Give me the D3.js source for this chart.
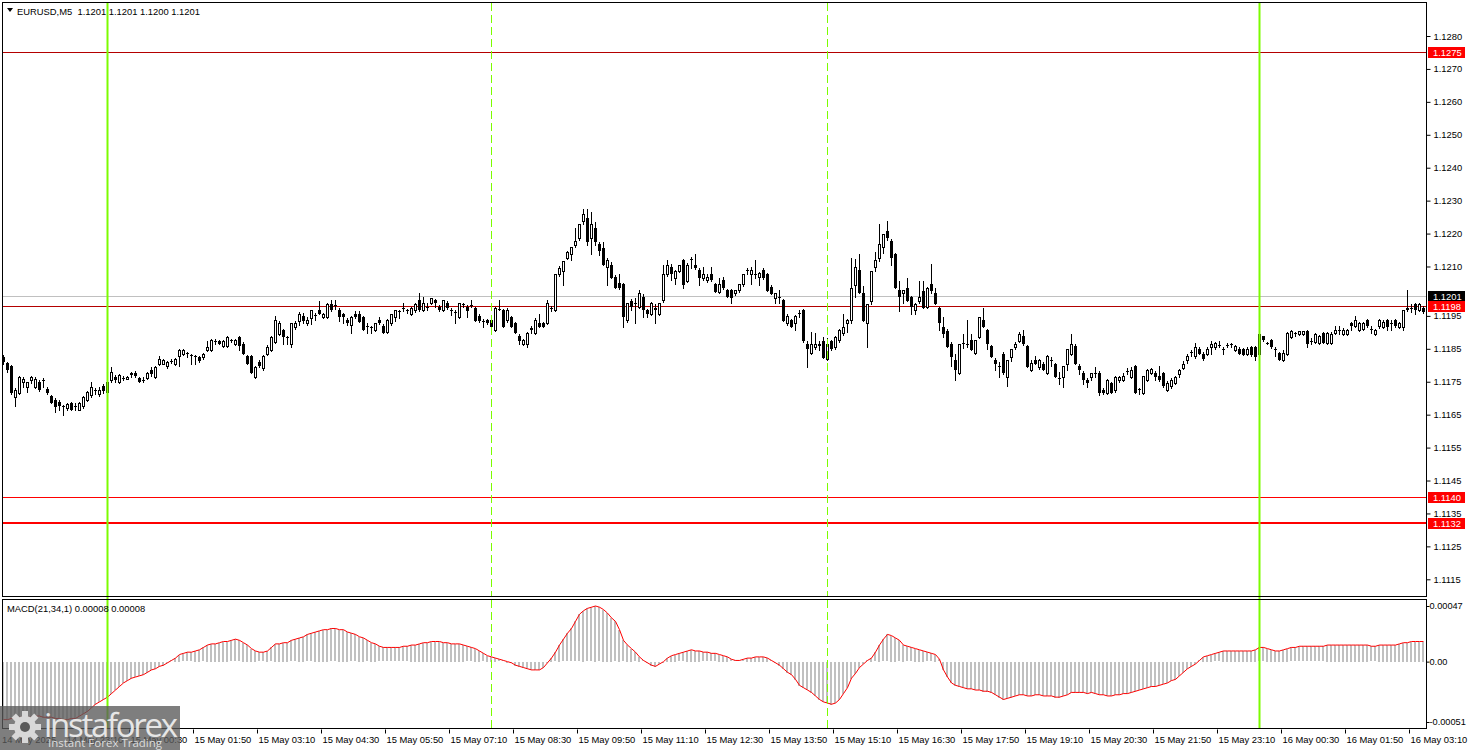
<!DOCTYPE html>
<html><head><meta charset="utf-8">
<script src="https://cdn.jsdelivr.net/npm/d3@7"></script>
<style>html,body{margin:0;padding:0;background:#fff;overflow:hidden}</style>
</head><body><svg id="c" width="1468" height="750"></svg>
<script>
// ---------------- DATA ----------------
const symbolTitle = "EURUSD,M5";
const lastQuote = ["1.1201", "1.1201", "1.1200", "1.1201"];
const firstBarTime = "2025-05-14 21:50";
const barMinutes = 5;

const opens = [
1.11825,1.11807,1.11797,1.11704,1.11716,1.1175,1.11734,1.11754,1.11734,1.11749,
1.11754,1.11729,1.11706,1.11695,1.11688,1.11676,1.1167,1.11685,1.11675,1.11665,
1.11675,1.11695,1.11709,1.11726,1.11712,1.11736,1.11719,1.11754,1.11764,1.1175,
1.11762,1.11759,1.11776,1.11778,1.11762,1.11755,1.11762,1.11786,1.11764,1.11805,
1.11805,1.11797,1.11813,1.11805,1.11827,1.11833,1.11837,1.11832,1.11826,1.11825,
1.11825,1.11845,1.11847,1.11872,1.11873,1.11858,1.11858,1.11876,1.11866,1.11886,
1.11866,1.11827,1.11827,1.11764,1.1181,1.11793,1.11835,1.11847,1.11871,1.11896,
1.11906,1.11885,1.11866,1.11917,1.11934,1.1195,1.11927,1.11944,1.11952,1.11967,
1.11947,1.11947,1.11987,1.1198,1.11967,1.11957,1.11937,1.11922,1.11957,1.11957,
1.11947,1.1192,1.11917,1.11907,1.11937,1.1192,1.11902,1.11927,1.11947,1.11962,
1.1197,1.11967,1.11957,1.11967,1.11998,1.11967,1.11977,1.11988,1.11998,1.11978,
1.11968,1.11988,1.11967,1.11962,1.11947,1.11985,1.11978,1.11982,1.11975,1.1195,
1.11935,1.11937,1.11937,1.11907,1.1197,1.11967,1.11937,1.11947,1.11927,1.1189,
1.11866,1.11866,1.11912,1.11897,1.11927,1.11927,1.11927,1.11975,1.11967,1.12076,
1.12086,1.12127,1.12137,1.12165,1.12187,1.12238,1.12246,1.12187,1.12216,1.12167,
1.12157,1.12099,1.12106,1.12069,1.12049,1.12046,1.11937,1.11995,1.11988,1.11978,
1.12008,1.11967,1.11957,1.11975,1.11957,1.11998,1.12076,1.12099,1.12066,1.12086,
1.12119,1.12056,1.12122,1.12106,1.12089,1.12066,1.12059,1.12076,1.12046,1.12023,
1.12059,1.12028,1.12028,1.12018,1.12028,1.12046,1.12086,1.12076,1.12076,1.12069,
1.12089,1.12076,1.12038,1.12003,1.12008,1.11998,1.11927,1.11937,1.11927,1.11957,
1.11967,1.11866,1.11836,1.11856,1.11866,1.11873,1.11819,1.11873,1.11856,1.11876,
1.11897,1.11927,1.11937,1.12043,1.12089,1.1202,1.11927,1.11995,1.12097,1.12127,
1.12158,1.12208,1.12178,1.12137,1.12028,1.12018,1.12036,1.12006,1.11967,1.11995,
1.12026,1.11977,1.12046,1.12018,1.11975,1.11917,1.11904,1.11866,1.11817,1.11777,
1.11868,1.11866,1.11876,1.11836,1.11886,1.11937,1.11906,1.11858,1.11817,1.11797,
1.11833,1.11764,1.11825,1.11856,1.11874,1.11888,1.11858,1.11787,1.11817,1.11795,
1.11805,1.11777,1.11815,1.11803,1.1176,1.11765,1.11805,1.11835,1.11858,1.11797,
1.11777,1.11754,1.11765,1.11776,1.11777,1.11726,1.11716,1.11746,1.11724,1.11754,
1.11756,1.11782,1.11765,1.11797,1.11729,1.11716,1.11756,1.11776,1.11776,1.11766,
1.11776,1.11726,1.11736,1.11746,1.11774,1.11793,1.11815,1.1184,1.11827,1.1185,
1.11835,1.11833,1.11857,1.11855,1.11861,1.11848,1.11861,1.11864,1.11847,1.1185,
1.1185,1.11833,1.11857,1.11855,1.11835,1.11888,1.11868,1.11876,1.11848,1.11837,
1.11817,1.11835,1.11886,1.11898,1.11896,1.11896,1.11904,1.11873,1.11871,1.11868,
1.11898,1.11868,1.11868,1.11898,1.11905,1.11896,1.11896,1.11928,1.11918,1.11906,
1.11911,1.11938,1.11908,1.11896,1.11918,1.11916,1.11936,1.11926,1.11936,1.11916,
1.11916,1.11975,1.11975,1.11987,1.11967,1.11975];

const highs = [
1.1183,1.1181,1.118,1.1173,1.11768,1.11764,1.1175,1.11768,1.11764,1.11756,
1.1176,1.11735,1.1171,1.117,1.11695,1.1168,1.11686,1.11688,1.11685,1.11688,
1.11706,1.11721,1.11749,1.1173,1.11735,1.11742,1.11754,1.11795,1.1177,1.11775,
1.11766,1.11766,1.1178,1.11782,1.11765,1.11764,1.1178,1.11795,1.11797,1.11827,
1.1182,1.11813,1.11818,1.11823,1.1185,1.11848,1.1184,1.11835,1.1183,1.11828,
1.11838,1.11874,1.1188,1.1188,1.11878,1.11876,1.11888,1.1188,1.1188,1.1189,
1.1187,1.1183,1.1183,1.11798,1.11815,1.1183,1.11863,1.11888,1.11949,1.11935,
1.1191,1.1189,1.11927,1.11933,1.11961,1.1196,1.11947,1.11968,1.1196,1.11995,
1.1196,1.11988,1.11998,1.11998,1.11975,1.1196,1.11943,1.1195,1.11965,1.11964,
1.1195,1.11927,1.1192,1.11927,1.11948,1.11925,1.1194,1.11957,1.11967,1.11967,
1.11988,1.1197,1.11978,1.11988,1.12018,1.12008,1.11988,1.12005,1.12002,1.11982,
1.11998,1.11995,1.11973,1.11968,1.11988,1.11989,1.11982,1.11998,1.11978,1.11955,
1.1194,1.1194,1.11942,1.11977,1.11998,1.1197,1.11973,1.1195,1.1193,1.11895,
1.11879,1.119,1.1192,1.11945,1.11957,1.1193,1.11998,1.1198,1.12078,1.121,
1.12118,1.12148,1.1216,1.12216,1.12228,1.12276,1.12276,1.12266,1.12236,1.12175,
1.12175,1.12125,1.12115,1.12075,1.12076,1.12049,1.11988,1.12,1.12003,1.12028,
1.12015,1.1197,1.11993,1.11985,1.11988,1.12105,1.12119,1.12108,1.1209,1.12106,
1.12122,1.1211,1.1213,1.12137,1.12095,1.12099,1.12076,1.12099,1.1205,1.12066,
1.12069,1.12033,1.12033,1.1203,1.12048,1.12076,1.12094,1.12099,1.12119,1.12084,
1.12094,1.1208,1.12045,1.12018,1.12028,1.12,1.11955,1.1194,1.11953,1.11967,
1.1197,1.11875,1.11902,1.11897,1.11875,1.11886,1.11883,1.11878,1.11888,1.1191,
1.11957,1.1194,1.12127,1.12124,1.12139,1.1204,1.11985,1.12087,1.12145,1.12228,
1.122,1.12239,1.12185,1.1214,1.12056,1.1203,1.12066,1.1201,1.1199,1.12056,
1.12056,1.12038,1.12109,1.12036,1.11978,1.11947,1.1191,1.1187,1.11835,1.11866,
1.11896,1.11937,1.11896,1.11878,1.11947,1.11975,1.1191,1.11862,1.11822,1.1181,
1.1184,1.11817,1.1185,1.1187,1.119,1.11906,1.11862,1.11817,1.11827,1.1182,
1.1181,1.1183,1.11825,1.11807,1.1178,1.11797,1.11848,1.11896,1.11865,1.11803,
1.11782,1.1176,1.11778,1.11795,1.11782,1.1173,1.11758,1.1175,1.11766,1.11768,
1.11777,1.11793,1.11795,1.118,1.11732,1.11768,1.1179,1.11793,1.11782,1.11797,
1.1178,1.11752,1.11762,1.11768,1.11789,1.11813,1.11833,1.11847,1.11868,1.11855,
1.1184,1.11854,1.11874,1.11871,1.11874,1.11856,1.11868,1.11868,1.11863,1.11855,
1.11852,1.11855,1.1186,1.11858,1.11898,1.1189,1.1187,1.1188,1.11856,1.1184,
1.11847,1.119,1.11906,1.119,1.11904,1.11904,1.11907,1.11884,1.11898,1.11892,
1.11901,1.11902,1.119,1.11918,1.11918,1.11913,1.1191,1.11931,1.11949,1.11932,
1.11931,1.1194,1.11918,1.1191,1.1194,1.11936,1.1194,1.11936,1.1194,1.11931,
1.11968,1.12028,1.11987,1.1199,1.11989,1.11979];

const lows = [
1.11805,1.1178,1.11713,1.11675,1.11713,1.11734,1.11719,1.11745,1.1173,1.11722,
1.11734,1.11713,1.11685,1.11658,1.11665,1.11648,1.11663,1.11663,1.11663,1.11663,
1.1167,1.1169,1.11705,1.11714,1.11706,1.11715,1.11705,1.1175,1.1175,1.11745,
1.11756,1.11757,1.11765,1.11763,1.11748,1.11749,1.11758,1.11768,1.1176,1.118,
1.11803,1.11793,1.11807,1.11802,1.11797,1.1183,1.11825,1.11805,1.11805,1.1181,
1.1182,1.11842,1.11844,1.11865,1.11865,1.11855,1.11855,1.1187,1.11863,1.11845,
1.11833,1.11803,1.11776,1.1176,1.11795,1.11785,1.1183,1.11843,1.11868,1.11893,
1.11866,1.11865,1.11856,1.1191,1.11922,1.11928,1.11923,1.11925,1.11937,1.11955,
1.11943,1.11944,1.11965,1.1197,1.11934,1.11927,1.11923,1.11897,1.11943,1.1193,
1.11906,1.11897,1.11897,1.11903,1.11925,1.11897,1.11898,1.11923,1.11935,1.11945,
1.11965,1.11958,1.11953,1.11963,1.11965,1.11964,1.11967,1.11986,1.11977,1.11966,
1.11965,1.11972,1.11954,1.11927,1.11945,1.11976,1.11947,1.11976,1.11934,1.1193,
1.11917,1.11925,1.11897,1.11903,1.11967,1.11917,1.1193,1.11917,1.11897,1.11866,
1.11863,1.11856,1.11897,1.11895,1.11915,1.11915,1.11925,1.11965,1.11965,1.1207,
1.12045,1.12123,1.1212,1.1216,1.1218,1.1223,1.12165,1.12137,1.12165,1.12135,
1.12105,1.12043,1.12064,1.12035,1.12033,1.11917,1.11932,1.11967,1.11927,1.11973,
1.11947,1.11947,1.11952,1.11927,1.11953,1.11993,1.1207,1.12059,1.12048,1.12082,
1.12035,1.12052,1.12096,1.12093,1.12045,1.1206,1.12052,1.12055,1.12023,1.1202,
1.12032,1.12008,1.11988,1.12012,1.12023,1.12042,1.12076,1.12046,1.12066,1.12045,
1.12063,1.12025,1.12015,1.11988,1.11988,1.11934,1.11923,1.11917,1.11907,1.11947,
1.11871,1.11795,1.11833,1.1185,1.11845,1.11821,1.11816,1.11845,1.1185,1.11872,
1.11892,1.11902,1.11928,1.12006,1.12018,1.11935,1.11856,1.11985,1.12085,1.12117,
1.1214,1.1218,1.12104,1.12036,1.11965,1.11989,1.11995,1.11957,1.11957,1.1199,
1.11975,1.11973,1.1202,1.11987,1.11906,1.11886,1.11856,1.11797,1.11756,1.11772,
1.11851,1.11854,1.11845,1.11833,1.11882,1.11916,1.11848,1.11825,1.11787,1.11765,
1.11775,1.11736,1.11814,1.1185,1.1187,1.11862,1.11795,1.11782,1.11803,1.1179,
1.11787,1.11773,1.11797,1.11765,1.11744,1.11734,1.11787,1.11831,1.11805,1.11775,
1.11744,1.11734,1.11754,1.11765,1.11709,1.11712,1.11712,1.11715,1.1172,1.1175,
1.11752,1.11772,1.11762,1.11716,1.11714,1.11713,1.11753,1.11772,1.11754,1.11752,
1.11735,1.11722,1.11732,1.11742,1.11765,1.11788,1.11808,1.11827,1.11823,1.11833,
1.11815,1.1183,1.11835,1.1185,1.11856,1.11835,1.11856,1.11856,1.11843,1.11835,
1.1183,1.1183,1.11827,1.11817,1.11828,1.11875,1.11865,1.11851,1.11827,1.11816,
1.11814,1.11832,1.11882,1.11888,1.11892,1.11892,1.11857,1.11865,1.11868,1.11865,
1.11868,1.11865,1.11865,1.11895,1.11894,1.11892,1.11892,1.11906,1.11915,1.11903,
1.11908,1.11915,1.11898,1.11892,1.11914,1.11913,1.11906,1.11908,1.11916,1.11913,
1.11906,1.11964,1.11962,1.11957,1.11965,1.1196];

const closes = [
1.1181,1.11785,1.11716,1.11726,1.11764,1.11759,1.11749,1.11764,1.11759,1.11726,
1.11752,1.11716,1.11685,1.11673,1.11675,1.11675,1.11683,1.11665,1.11676,1.11685,
1.11704,1.11719,1.11734,1.11724,1.11726,1.11722,1.11749,1.1178,1.11754,1.1177,
1.1176,1.11764,1.1177,1.11766,1.11749,1.11756,1.11776,1.11772,1.11796,1.1182,
1.11817,1.1181,1.11814,1.1182,1.11847,1.11845,1.11836,1.1183,1.11828,1.11813,
1.11835,1.11857,1.11876,1.11873,1.11866,1.11873,1.11886,1.11875,1.11876,1.11858,
1.11835,1.11805,1.11776,1.11796,1.11797,1.11827,1.11857,1.11886,1.11937,1.11927,
1.11886,1.11882,1.11927,1.11927,1.11957,1.11934,1.11937,1.11967,1.11954,1.11957,
1.11957,1.11987,1.11967,1.11983,1.11947,1.11947,1.11927,1.11947,1.11947,1.11932,
1.11907,1.11917,1.11915,1.11927,1.11927,1.11897,1.11937,1.11957,1.11967,1.11965,
1.11973,1.11968,1.11973,1.11987,1.11967,1.11988,1.11978,1.12005,1.11988,1.11968,
1.11998,1.11975,1.11965,1.1196,1.11988,1.11983,1.11965,1.11983,1.11934,1.11934,
1.11935,1.11927,1.11917,1.11973,1.11972,1.11917,1.11967,1.11917,1.11897,1.11873,
1.11876,1.11897,1.11907,1.11937,1.11917,1.11917,1.11988,1.1197,1.12076,1.12096,
1.12116,1.12145,1.1216,1.12177,1.12228,1.12258,1.12175,1.12228,1.12175,1.12147,
1.12106,1.1212,1.12066,1.12035,1.12036,1.11947,1.11988,1.11978,1.11986,1.12018,
1.11967,1.11957,1.11988,1.11967,1.11988,1.12076,1.12106,1.12076,1.12086,1.12106,
1.12044,1.12106,1.12122,1.12096,1.12066,1.12076,1.12069,1.12059,1.12023,1.12046,
1.12035,1.12008,1.12005,1.12028,1.12046,1.12076,1.12088,1.12089,1.12077,1.12079,
1.12066,1.12025,1.12015,1.12018,1.12006,1.11934,1.1195,1.11917,1.1195,1.11958,
1.11873,1.11849,1.11866,1.11866,1.11858,1.11821,1.11866,1.11849,1.11886,1.11907,
1.11917,1.11937,1.12035,1.12097,1.12018,1.11935,1.11985,1.12087,1.12119,1.12168,
1.12198,1.12188,1.12127,1.12036,1.12006,1.12028,1.11995,1.11977,1.11987,1.12006,
1.11975,1.12036,1.12026,1.11987,1.11927,1.11896,1.11856,1.11825,1.11785,1.11866,
1.11866,1.11864,1.11846,1.11876,1.11947,1.11917,1.11866,1.11825,1.11803,1.11795,
1.11777,1.11817,1.11848,1.11866,1.11896,1.11866,1.11795,1.11807,1.11803,1.11817,
1.11787,1.11827,1.11815,1.11765,1.11762,1.11797,1.11848,1.11866,1.11805,1.11785,
1.11756,1.11746,1.11777,1.11774,1.11716,1.11716,1.11756,1.11716,1.11765,1.11765,
1.11766,1.11783,1.11787,1.11716,1.11728,1.11766,1.11786,1.11789,1.11764,1.11754,
1.11736,1.11746,1.11754,1.11764,1.11786,1.11805,1.11827,1.11841,1.11855,1.11835,
1.1182,1.1185,1.11866,1.11868,1.11862,1.11847,1.11862,1.11865,1.1186,1.11835,
1.11832,1.1185,1.1183,1.11825,1.11896,1.11876,1.11867,1.11857,1.11847,1.11817,
1.11837,1.11898,1.11904,1.11899,1.11904,1.11904,1.11866,1.11874,1.11896,1.11888,
1.11868,1.11898,1.11896,1.11908,1.11906,1.11908,1.11908,1.11918,1.11938,1.11928,
1.11928,1.11918,1.11909,1.11908,1.11936,1.11931,1.11916,1.11927,1.11918,1.11928,
1.11967,1.11967,1.11973,1.11967,1.11987,1.11962];

const macdValues = [
-0.00049,-0.00049,-0.00048,-0.00048,-0.00047,-0.00047,-0.00047,-0.00047,-0.00046,-0.00046,
-0.00047,-0.00047,-0.00047,-0.00048,-0.00048,-0.00049,-0.00049,-0.00048,-0.00048,-0.00046,
-0.00044,-0.00042,-0.00039,-0.00036,-0.00034,-0.00032,-0.0003,-0.00027,-0.00024,-0.00021,
-0.00018,-0.00016,-0.00014,-0.00013,-0.00012,-0.00011,-0.00009,-0.00007,-0.00006,-0.00004,
-0.00003,-0.00001,0.00001,0.00003,0.00006,0.00007,0.00008,0.00008,0.00009,0.0001,
0.00012,0.00014,0.00015,0.00015,0.00016,0.00017,0.00017,0.00018,0.00019,0.00018,
0.00016,0.00014,0.00011,0.00009,0.00008,0.00008,0.00009,0.00012,0.00015,0.00015,
0.00016,0.00016,0.00018,0.00019,0.0002,0.00021,0.00023,0.00024,0.00025,0.00026,
0.00027,0.00027,0.00028,0.00028,0.00027,0.00027,0.00025,0.00024,0.00023,0.00021,
0.0002,0.00018,0.00016,0.00015,0.00013,0.00012,0.00012,0.00012,0.00012,0.00012,
0.00013,0.00013,0.00014,0.00014,0.00015,0.00016,0.00016,0.00017,0.00017,0.00017,
0.00016,0.00016,0.00015,0.00015,0.00015,0.00014,0.00013,0.00012,0.00011,0.00009,
0.00007,0.00005,0.00004,0.00003,0.00002,0.00001,0,-0.00001,-0.00003,-0.00004,
-0.00005,-0.00006,-0.00007,-0.00007,-0.00007,-0.00005,-0.00001,0.00003,0.00008,0.00014,
0.00019,0.00024,0.00028,0.00034,0.0004,0.00043,0.00045,0.00046,0.00047,0.00046,
0.00044,0.00041,0.00037,0.00034,0.00027,0.00018,0.00014,0.00011,0.00008,0.00004,
0.00001,-0.00001,-0.00003,-0.00004,-0.00002,0,0.00003,0.00005,0.00006,0.00007,
0.00008,0.00009,0.0001,0.00009,0.00009,0.00008,0.00008,0.00007,0.00007,0.00006,
0.00005,0.00004,0.00002,0.00001,0.00001,0.00002,0.00003,0.00003,0.00004,0.00004,
0.00004,0.00003,0.00001,-0.00001,-0.00003,-0.00006,-0.00009,-0.00011,-0.00015,-0.0002,
-0.00022,-0.00024,-0.00026,-0.00029,-0.00032,-0.00034,-0.00035,-0.00036,-0.00035,-0.00032,
-0.00027,-0.00022,-0.00014,-0.0001,-0.00005,-0.00002,0.00001,0.00003,0.00008,0.00014,
0.00019,0.00023,0.00022,0.0002,0.00018,0.00014,0.00013,0.00012,0.00011,0.0001,
0.00009,0.00008,0.00007,0.00006,0.00002,-0.00007,-0.00013,-0.00018,-0.0002,-0.00021,
-0.00022,-0.00023,-0.00023,-0.00024,-0.00024,-0.00025,-0.00025,-0.00026,-0.00028,-0.0003,
-0.00032,-0.00031,-0.0003,-0.00029,-0.00028,-0.00028,-0.00029,-0.00029,-0.00028,-0.00028,
-0.00029,-0.00029,-0.00029,-0.0003,-0.0003,-0.00029,-0.00028,-0.00026,-0.00026,-0.00026,
-0.00026,-0.00027,-0.00026,-0.00027,-0.00028,-0.00028,-0.00029,-0.00029,-0.00028,-0.00028,
-0.00027,-0.00027,-0.00026,-0.00025,-0.00024,-0.00023,-0.00022,-0.00021,-0.00021,-0.0002,
-0.00019,-0.00018,-0.00016,-0.00015,-0.00012,-0.00009,-0.00006,-0.00004,-0.00002,0.00001,
0.00004,0.00005,0.00006,0.00007,0.00008,0.00009,0.00009,0.00009,0.00009,0.00009,
0.00009,0.00009,0.00009,0.0001,0.00012,0.00012,0.00011,0.0001,0.00009,0.00009,
0.0001,0.00011,0.00012,0.00012,0.00013,0.00013,0.00013,0.00013,0.00013,0.00013,
0.00013,0.00014,0.00014,0.00014,0.00014,0.00014,0.00014,0.00014,0.00014,0.00014,
0.00014,0.00014,0.00013,0.00013,0.00014,0.00014,0.00014,0.00014,0.00014,0.00015,
0.00016,0.00016,0.00017,0.00017,0.00017,0.00017];

const macdTitle = "MACD(21,34,1)";
const macdReadout = ["0.00008", "0.00008"];

const priceTicks = [1.1280,1.1270,1.1260,1.1250,1.1240,1.1230,1.1220,1.1210,1.1195,1.1185,1.1175,1.1165,1.1155,1.1145,1.1135,1.1125,1.1115];
const priceDomain = [1.1115, 1.1280];
const macdTicks = [0.00047, 0, -0.00051];
const macdTickLabels = ["0.00047", "0.00", "-0.00051"];

const timeTicks = ["2025-05-14 21:50","2025-05-14 23:10","2025-05-15 00:30","2025-05-15 01:50","2025-05-15 03:10",
  "2025-05-15 04:30","2025-05-15 05:50","2025-05-15 07:10","2025-05-15 08:30","2025-05-15 09:50",
  "2025-05-15 11:10","2025-05-15 12:30","2025-05-15 13:50","2025-05-15 15:10","2025-05-15 16:30",
  "2025-05-15 17:50","2025-05-15 19:10","2025-05-15 20:30","2025-05-15 21:50","2025-05-15 23:10",
  "2025-05-16 00:30","2025-05-16 01:50","2025-05-16 03:10"];

const levelPrices = [1.1275, 1.1198, 1.1140, 1.1132];
const bidPrice = 1.1201;
const dayStarts = ["2025-05-15 00:00", "2025-05-16 00:00"];
const sessionMarks = ["2025-05-15 08:00", "2025-05-15 15:00"];

// ---------------- DRAW ----------------
const FONT = "'Liberation Sans', Arial, sans-serif";
const FS = 9.4;
const svg = d3.select("#c").style("font-family", FONT);
const parse = d3.timeParse("%Y-%m-%d %H:%M");
const t0 = parse(firstBarTime);
const n = opens.length;
const barTimes = d3.range(n).map(i => d3.timeMinute.offset(t0, i * barMinutes));

const x = d3.scaleTime().domain([barTimes[0], barTimes[n - 1]]).range([3.5, 3.5 + 4 * (n - 1)]);
const y = d3.scaleLinear().domain(priceDomain).range([579.3, 36]);
const ym = d3.scaleLinear().domain([-0.00051, 0.00047]).range([722, 606]);

const R = Math.round;
const PL = 3, PR = 1426, MT = 3, MB = 596, ST = 600, SB = 729;

svg.append("rect").attr("width", 1468).attr("height", 750).attr("fill", "#fff");

const defs = svg.append("defs");
defs.append("clipPath").attr("id", "cm").append("rect").attr("x", PL).attr("y", MT).attr("width", PR - PL).attr("height", MB - MT);
defs.append("clipPath").attr("id", "cs").append("rect").attr("x", PL).attr("y", ST).attr("width", PR - PL).attr("height", SB - ST);

const gm = svg.append("g").attr("clip-path", "url(#cm)");
const gs = svg.append("g").attr("clip-path", "url(#cs)");

// session dashed lines
sessionMarks.forEach(s => {
  const xx = R(x(parse(s))) - 0.5;
  [[MT, MB], [ST, SB]].forEach(([a, b]) => {
    svg.append("line").attr("x1", xx).attr("x2", xx).attr("y1", a).attr("y2", b)
      .attr("stroke", "#7cfc00").attr("stroke-width", 1).attr("stroke-dasharray", "8,4");
  });
});

// horizontal levels
gm.append("line").attr("x1", PL).attr("x2", PR).attr("y1", R(y(bidPrice)) + 0.5).attr("y2", R(y(bidPrice)) + 0.5)
  .attr("stroke", "#c0c0c0").attr("stroke-width", 1);
levelPrices.forEach((p, i) => {
  const thick = i === 3;
  const yy = thick ? R(y(p)) : R(y(p)) + 0.5;
  gm.append("line").attr("x1", PL).attr("x2", PR).attr("y1", yy).attr("y2", yy)
    .attr("stroke", i < 2 ? "#b40000" : "#ff0000").attr("stroke-width", thick ? 2 : 1);
});

// candles
const cg = gm.append("g");
d3.range(n).forEach(i => {
  const xc = Math.floor(x(barTimes[i])) + 0.5;
  const o = opens[i], c = closes[i];
  const hi = Math.max(highs[i], o, c), lo = Math.min(lows[i], o, c);
  cg.append("line").attr("x1", xc).attr("x2", xc).attr("y1", R(y(hi))).attr("y2", R(y(lo)) + 1)
    .attr("stroke", "#000").attr("stroke-width", 1);
  const yt = R(y(Math.max(o, c))), yb = R(y(Math.min(o, c)));
  if (c > o && yb - yt >= 2) {
    cg.append("rect").attr("x", xc - 1).attr("y", yt + 0.5).attr("width", 2).attr("height", yb - yt)
      .attr("fill", "#fff").attr("stroke", "#000").attr("stroke-width", 1);
  } else {
    cg.append("rect").attr("x", xc - 1.5).attr("y", yt).attr("width", 3).attr("height", Math.max(yb - yt, 1))
      .attr("fill", "#000");
  }
});

// day separators (green)
dayStarts.forEach(s => {
  const xx = Math.floor(x(parse(s)));
  svg.append("rect").attr("x", xx - 0.5).attr("y", MT).attr("width", 2).attr("height", SB - MT).attr("fill", "#7cfc00");
});

// MACD histogram + line
const y0 = ym(0);
d3.range(n).forEach(i => {
  const v = macdValues[i];
  const xl = Math.floor(x(barTimes[i])) - 1;
  const yv = ym(v);
  gs.append("rect").attr("x", xl).attr("width", 2)
    .attr("y", R(Math.min(y0, yv))).attr("height", Math.max(R(Math.abs(yv - y0)), 1))
    .attr("fill", "#c0c0c0");
});
gs.append("path")
  .datum(macdValues)
  .attr("d", d3.line().x((d, i) => x(barTimes[i])).y(d => ym(d)))
  .attr("fill", "none").attr("stroke", "#ff0000").attr("stroke-width", 1);

// frames
svg.append("rect").attr("x", 2.5).attr("y", 2.5).attr("width", PR - 2).attr("height", MB - 2)
  .attr("fill", "none").attr("stroke", "#000");
svg.append("rect").attr("x", 2.5).attr("y", ST - 0.5).attr("width", PR - 2).attr("height", SB - ST)
  .attr("fill", "none").attr("stroke", "#000");

// price axis
const pa = svg.append("g").attr("transform", `translate(${PR + 0.5},0)`)
  .call(d3.axisRight(y).tickValues(priceTicks).tickFormat(d3.format(".4f")).tickSize(4).tickPadding(3));
pa.select(".domain").remove();
pa.selectAll("text").attr("font-size", FS).attr("font-family", FONT).attr("fill", "#000");
pa.selectAll("line").attr("stroke", "#000");

// MACD axis
const ma = svg.append("g").attr("transform", `translate(${PR + 0.5},0)`)
  .call(d3.axisRight(ym).tickValues(macdTicks).tickFormat((d, i) => macdTickLabels[i]).tickSize(3).tickPadding(0));
ma.select(".domain").remove();
ma.selectAll("text").attr("font-size", 9.2).attr("font-family", FONT).attr("fill", "#000");
ma.selectAll("line").attr("stroke", "#000");

// price label boxes
const boxes = [[levelPrices[0], "#ff0000"], [bidPrice, "#000"], [levelPrices[1], "#ff0000"], [levelPrices[2], "#ff0000"], [levelPrices[3], "#ff0000"]];
boxes.forEach(([p, col]) => {
  const yy = R(y(p));
  svg.append("rect").attr("x", 1428).attr("y", yy - 5).attr("width", 37).attr("height", 11).attr("fill", col);
  svg.append("text").attr("x", 1433).attr("y", yy + 4).attr("font-size", FS).attr("fill", "#fff")
    .text(d3.format(".4f")(p));
});

// time axis
const tickDates = timeTicks.map(parse);
const fmt = d3.timeFormat("%d %b %H:%M");
const fmtFirst = d3.timeFormat("%d %b %Y");
const ta = svg.append("g").attr("transform", `translate(0,${SB + 0.5})`)
  .call(d3.axisBottom(x).tickValues(tickDates).tickFormat((d, i) => i === 0 ? fmtFirst(d) : fmt(d)).tickSize(4).tickPadding(2));
ta.select(".domain").remove();
ta.selectAll(".tick").attr("transform", d => `translate(${Math.floor(x(d)) - 1.5},0)`);
ta.selectAll(".tick").filter((d, i) => i === 0).select("line").remove();
ta.selectAll("text").attr("font-size", FS).attr("font-family", FONT).attr("fill", "#000")
  .attr("text-anchor", "start").attr("x", 1).attr("dy", "0.75em");
ta.selectAll(".tick").filter((d, i) => i === 0).select("text").attr("x", 0.5);
ta.selectAll("line").attr("stroke", "#000");

// headers
svg.append("path").attr("d", "M7,8 L13,8 L10,12 Z").attr("fill", "#000");
svg.append("text").attr("x", 17).attr("y", 15).attr("font-size", FS).attr("fill", "#000").attr("xml:space", "preserve")
  .text(symbolTitle + "  " + lastQuote.join(" "));
svg.append("text").attr("x", 7).attr("y", 612).attr("font-size", FS).attr("fill", "#000")
  .text(macdTitle + " " + macdReadout.join(" "));

// watermark (overlays the first time labels, as in the reference)
const wm = svg.append("g");
wm.append("rect").attr("x", 0).attr("y", 706).attr("width", 180).attr("height", 44).attr("fill", "#5a5a5a").attr("opacity", 0.78);
const gear = wm.append("g").attr("transform", "translate(25,727)");
d3.range(8).forEach(k => {
  gear.append("rect").attr("x", -3).attr("y", -16).attr("width", 6).attr("height", 8)
    .attr("fill", "#d8d8d8").attr("transform", `rotate(${k * 45})`);
});
gear.append("circle").attr("r", 11).attr("fill", "#d8d8d8");
gear.append("circle").attr("r", 5).attr("fill", "#5a5a5a");
wm.append("text").attr("x", 44).attr("y", 737).attr("font-size", 33).attr("font-family", "'Open Sans', Arial, sans-serif")
  .attr("fill", "#e6e6e6").attr("textLength", 134).text("instaforex");
wm.append("text").attr("x", 48).attr("y", 747).attr("font-size", 11.5).attr("font-family", "'Open Sans', Arial, sans-serif")
  .attr("fill", "#dcdcdc").text("Instant Forex Trading");
</script>
</body></html>
